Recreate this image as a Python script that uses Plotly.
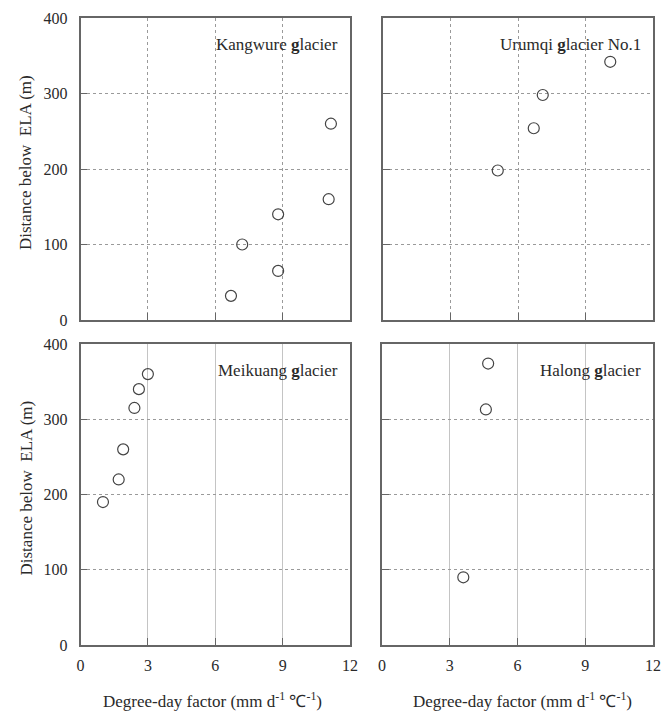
import plotly.graph_objects as go

# Data
kangwure_x = [6.7, 7.2, 8.8, 8.8, 11.05, 11.15]
kangwure_y = [32, 100, 140, 65, 160, 260]

urumqi_x = [5.1, 6.7, 7.1, 10.1]
urumqi_y = [198, 254, 298, 342]

meikuang_x = [1.0, 1.7, 1.9, 2.4, 2.6, 3.0]
meikuang_y = [190, 220, 260, 315, 340, 360]

halong_x = [4.7, 4.6, 3.6]
halong_y = [374, 313, 90]

panel_titles = ["Kangwure <b>g</b>lacier", "Urumqi <b>g</b>lacier No.1",
                "Meikuang <b>g</b>lacier", "Halong <b>g</b>lacier"]
x_ticks = [0, 3, 6, 9, 12]
y_ticks = [0, 100, 200, 300, 400]
x_title = "Degree-day factor (mm d<sup>-1</sup> ℃<sup>-1</sup>)"
y_title = "Distance below  ELA (m)"

W, H = 670, 713
OFF = 8  # page body margin offset
FONT = "Liberation Serif, Times New Roman, serif"
TXT = "#2a2a2a"
LINE = "#666666"
GRID = "#9a9a9a"


def px(v):
    return (v - OFF) / W


def py(v):
    return 1 - (v - OFF) / H


# panel pixel boxes in the screenshot (left, right, top, bottom)
boxes = [(80.5, 350, 18, 320), (383, 653, 18, 320),
         (80.5, 350, 344, 645), (382, 653, 344, 645)]
xtitle_centers = [212, 522]

fig = go.Figure()
datasets = [(kangwure_x, kangwure_y), (urumqi_x, urumqi_y),
            (meikuang_x, meikuang_y), (halong_x, halong_y)]

for i, ((xs, ys), box) in enumerate(zip(datasets, boxes)):
    n = i + 1
    xa = "x" if n == 1 else f"x{n}"
    ya = "y" if n == 1 else f"y{n}"
    fig.add_trace(go.Scatter(
        x=xs, y=ys, mode="markers", xaxis=xa, yaxis=ya, showlegend=False,
        marker=dict(symbol="circle-open", size=11, color="#444444",
                    line=dict(width=1.2, color="#444444"))))
    l, r, t, b = box
    xkey = "xaxis" if n == 1 else f"xaxis{n}"
    ykey = "yaxis" if n == 1 else f"yaxis{n}"
    bottom_row = n >= 3
    left_col = n in (1, 3)
    fig.update_layout(**{
        xkey: dict(domain=[px(l), px(r)], anchor=ya, range=[0, 12],
                   tickvals=x_ticks, showticklabels=bottom_row,
                   ticks="inside", ticklen=7, tickcolor=LINE, tickwidth=1.2,
                   showline=True, mirror=True, linecolor=LINE, linewidth=1.5,
                   showgrid=True, gridwidth=0.8,
                   gridcolor=GRID if not bottom_row else "#c4c4c4",
                   griddash="dot" if not bottom_row else "solid",
                   zeroline=False, ticklabelstandoff=5, automargin=False,
                   tickfont=dict(family=FONT, size=16, color=TXT)),
        ykey: dict(domain=[py(b), py(t)], anchor=xa, range=[0, 400],
                   tickvals=y_ticks, showticklabels=left_col,
                   ticks="inside", ticklen=7, tickcolor=LINE, tickwidth=1.2,
                   showline=True, mirror=True, linecolor=LINE, linewidth=1.5,
                   showgrid=True, gridcolor=GRID, gridwidth=0.8, griddash="dot",
                   zeroline=False, ticklabelstandoff=8, automargin=False,
                   tickfont=dict(family=FONT, size=16, color=TXT)),
    })
    # panel title
    fig.add_annotation(x=px(r - 10), y=py(t + 26), xref="paper", yref="paper",
                       text=panel_titles[i], showarrow=False, xanchor="right",
                       yanchor="middle", font=dict(family=FONT, size=17, color=TXT))

# axis titles
for cx in xtitle_centers:
    fig.add_annotation(x=px(cx), y=py(700), xref="paper", yref="paper",
                       text=x_title, showarrow=False, xanchor="center", yanchor="middle",
                       font=dict(family=FONT, size=17, color=TXT))
for (l, r, t, b) in (boxes[0], boxes[2]):
    fig.add_annotation(x=px(26), y=py((t + b) / 2 - 6), xref="paper", yref="paper",
                       text=y_title, showarrow=False, textangle=-90,
                       xanchor="center", yanchor="middle",
                       font=dict(family=FONT, size=17, color=TXT))

fig.update_layout(width=W, height=H, margin=dict(l=0, r=0, t=0, b=0),
                  paper_bgcolor="white", plot_bgcolor="white")

fig.write_html("out.html")
